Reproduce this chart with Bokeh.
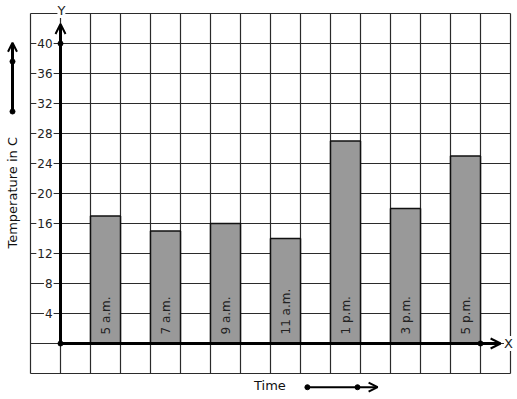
import math
from bokeh.plotting import figure
from bokeh.models import ColumnDataSource, Arrow, OpenHead, Range1d
from bokeh.core.properties import value
from bokeh.embed import file_html
from bokeh.resources import INLINE

# ---- data ----
times = ["5 a.m.", "7 a.m.", "9 a.m.", "11 a.m.", "1 p.m.", "3 p.m.", "5 p.m."]
temps = [17, 15, 16, 14, 27, 18, 25]
y_ticks = [4, 8, 12, 16, 20, 24, 28, 32, 36, 40]
y_title = "Temperature in C"
x_title = "Time"

FONT = value("DejaVu Sans")
W, H = 517, 399
PX_X = 30.0   # pixels per x unit
PX_Y = 7.5    # pixels per y unit
ox, oy = 60, 343  # origin in figure pixels

p = figure(width=W, height=H, output_backend="svg", toolbar_location=None,
           x_range=Range1d(-ox / PX_X, (W - ox) / PX_X),
           y_range=Range1d(-(H - oy) / PX_Y, oy / PX_Y),
           min_border=0)
p.axis.visible = False
p.grid.visible = False
p.outline_line_color = None
p.background_fill_color = "white"

# grid squares
gx0, gx1, gy0, gy1 = -1, 15, -4, 44
vx = list(range(gx0, gx1 + 1))
p.segment(x0=vx, y0=[gy0] * len(vx), x1=vx, y1=[gy1] * len(vx), line_color="#2b2b2b", line_width=1.2)
hy = list(range(gy0, gy1 + 1, 4))
p.segment(x0=[gx0] * len(hy), y0=hy, x1=[gx1] * len(hy), y1=hy, line_color="#2b2b2b", line_width=1.2)

# bars
bx = [1.5 + 2 * i for i in range(len(times))]
src = ColumnDataSource(dict(x=bx, top=temps, label=times))
p.vbar(x="x", top="top", bottom=0, width=1.0, source=src,
       fill_color="#999999", line_color="#111111", line_width=1.5)
p.text(x="x", y=1.2, text="label", source=src, angle=math.pi / 2,
       text_align="left", text_baseline="middle", text_font=FONT,
       text_font_size="12px", text_color="#222222")

# axes
p.add_layout(Arrow(x_start=0, y_start=0, x_end=14.67, y_end=0, line_width=3, line_color="black",
                   end=OpenHead(size=10, line_width=2, line_color="black")))
p.add_layout(Arrow(x_start=0, y_start=0, x_end=0, y_end=42.6, line_width=3, line_color="black",
                   end=OpenHead(size=10, line_width=2, line_color="black")))
p.scatter(x=[0, 0, 14], y=[0, 40, 0], size=5, color="black")
p.text(x=[14.93], y=[0], text=["X"], text_align="center", text_baseline="middle",
       text_font=FONT, text_font_size="13px", text_color="#222222",
       background_fill_color="white")
p.text(x=[0.03], y=[44.4], text=["Y"], text_align="center", text_baseline="middle",
       text_font=FONT, text_font_size="13px", text_color="#222222",
       background_fill_color="white")

# tick labels
p.text(x=[-0.23] * len(y_ticks), y=y_ticks, text=[str(t) for t in y_ticks],
       text_align="right", text_baseline="middle", text_font=FONT,
       text_font_size="12px", text_color="#222222",
       background_fill_color="white", padding=1)

# y title with arrow
p.text(x=[-1.6], y=[20.1], text=[y_title], angle=math.pi / 2, text_align="center",
       text_baseline="middle", text_font=FONT, text_font_size="13px", text_color="#111111")
p.add_layout(Arrow(x_start=-1.6, y_start=30.93, x_end=-1.6, y_end=40.1, line_width=3, line_color="black",
                   end=OpenHead(size=9, line_width=2, line_color="black")))
p.scatter(x=[-1.6, -1.6], y=[30.93, 37.6], size=5, color="black")

# x title with arrow
p.text(x=[6.98], y=[-5.6], text=[x_title], text_align="center", text_baseline="middle",
       text_font=FONT, text_font_size="13px", text_color="#111111")
p.add_layout(Arrow(x_start=8.23, y_start=-5.83, x_end=10.57, y_end=-5.83, line_width=2, line_color="black",
                   end=OpenHead(size=9, line_width=2, line_color="black")))
p.scatter(x=[8.23, 9.9], y=[-5.83, -5.83], size=5, color="black")

open("out.html", "w").write(file_html(p, INLINE))
